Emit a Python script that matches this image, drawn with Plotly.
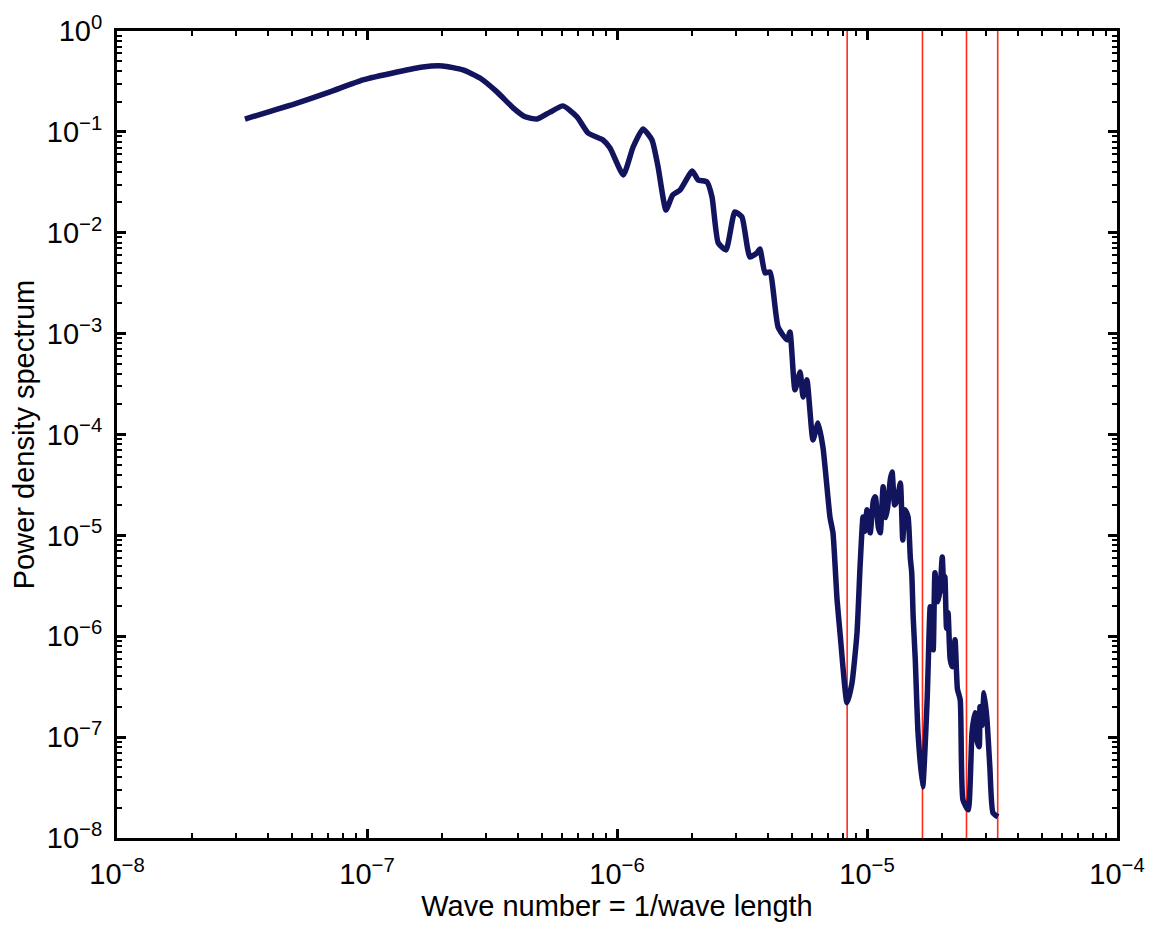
import plotly.graph_objects as go

# Wave number (1/wave length) and power density
wave_number = [
    3.25e-8, 5.25e-8, 7.11e-8, 9.64e-8, 1.32e-7, 1.67e-7, 2.01e-7, 2.42e-7, 2.83e-7, 3.31e-7,
    3.84e-7, 4.29e-7, 4.79e-7, 5.40e-7, 6.08e-7, 6.92e-7, 7.66e-7, 8.79e-7, 9.38e-7, 1.06e-6,
    1.16e-6, 1.27e-6, 1.38e-6, 1.46e-6, 1.57e-6, 1.67e-6, 1.79e-6, 2.00e-6, 2.11e-6, 2.29e-6,
    2.40e-6, 2.54e-6, 2.73e-6, 2.96e-6, 3.16e-6, 3.40e-6, 3.63e-6, 3.73e-6, 3.91e-6, 4.09e-6,
    4.41e-6, 4.79e-6, 4.92e-6, 5.15e-6, 5.40e-6, 5.55e-6, 5.75e-6, 6.08e-6, 6.37e-6, 6.67e-6,
    7.11e-6, 7.31e-6, 7.59e-6, 7.80e-6, 8.32e-6, 8.71e-6, 9.12e-6, 9.38e-6, 9.64e-6, 9.80e-6,
    1.00e-5, 1.03e-5, 1.06e-5, 1.08e-5, 1.11e-5, 1.13e-5, 1.16e-5, 1.19e-5, 1.21e-5, 1.24e-5,
    1.26e-5, 1.29e-5, 1.32e-5, 1.36e-5, 1.39e-5, 1.42e-5, 1.46e-5, 1.49e-5, 1.51e-5, 1.53e-5,
    1.56e-5, 1.60e-5, 1.67e-5, 1.74e-5, 1.79e-5, 1.84e-5, 1.87e-5, 1.92e-5, 1.96e-5, 2.00e-5,
    2.03e-5, 2.05e-5, 2.08e-5, 2.11e-5, 2.15e-5, 2.19e-5, 2.25e-5, 2.30e-5, 2.36e-5, 2.42e-5,
    2.54e-5, 2.63e-5, 2.70e-5, 2.76e-5, 2.81e-5, 2.83e-5, 2.88e-5, 2.94e-5, 3.02e-5, 3.10e-5,
    3.19e-5, 3.34e-5,
]
power_density = [
    0.134, 0.193, 0.249, 0.327, 0.392, 0.440, 0.450, 0.411, 0.342, 0.249,
    0.173, 0.141, 0.134, 0.157, 0.181, 0.141, 0.0975, 0.0832, 0.0692, 0.0374,
    0.0708, 0.107, 0.0832, 0.0449, 0.0168, 0.0237, 0.0266, 0.0410, 0.0334, 0.0319,
    0.0226, 0.00793, 0.00676, 0.0161, 0.0143, 0.00576, 0.00631, 0.00690, 0.00400, 0.00409,
    0.00116, 0.000867, 0.00104, 0.000277, 0.000417, 0.000236, 0.000348, 8.83e-5, 1.30e-4, 7.36e-5,
    1.52e-5, 1.06e-5, 2.30e-6, 1.08e-6, 2.19e-7, 3.45e-7, 1.08e-6, 4.88e-6, 1.52e-5, 1.10e-5,
    1.79e-5, 1.06e-5, 2.20e-5, 2.41e-5, 1.20e-5, 1.06e-5, 3.03e-5, 1.50e-5, 1.92e-5, 3.60e-5,
    4.26e-5, 2.00e-5, 2.25e-5, 3.31e-5, 9.02e-6, 1.80e-5, 1.52e-5, 6.00e-6, 4.25e-6, 1.56e-6,
    5.83e-7, 1.10e-7, 3.21e-8, 2.34e-7, 1.96e-6, 7.33e-7, 4.25e-6, 2.20e-6, 2.88e-6, 6.12e-6,
    2.80e-6, 3.88e-6, 1.20e-6, 1.71e-6, 6.00e-7, 4.98e-7, 9.21e-7, 3.00e-7, 2.34e-7, 2.39e-8,
    1.90e-8, 1.10e-7, 1.74e-7, 9.00e-8, 8.02e-8, 2.00e-7, 1.30e-7, 2.75e-7, 1.48e-7, 5.08e-8,
    1.78e-8, 1.62e-8,
]

# Red vertical marker lines (wave numbers)
marker_lines = [8.33e-6, 1.667e-5, 2.5e-5, 3.333e-5]

x_tick_vals = [1e-8, 1e-7, 1e-6, 1e-5, 1e-4]
x_tick_text = ["10<sup>−8</sup>", "10<sup>−7</sup>", "10<sup>−6</sup>", "10<sup>−5</sup>", "10<sup>−4</sup>"]
y_tick_vals = [1e-8, 1e-7, 1e-6, 1e-5, 1e-4, 1e-3, 1e-2, 1e-1, 1]
y_tick_text = ["10<sup>−8</sup>", "10<sup>−7</sup>", "10<sup>−6</sup>", "10<sup>−5</sup>", "10<sup>−4</sup>",
               "10<sup>−3</sup>", "10<sup>−2</sup>", "10<sup>−1</sup>", "10<sup>0</sup>"]

fig = go.Figure()

for v in marker_lines:
    fig.add_trace(go.Scatter(
        x=[v, v], y=[1e-8, 1], mode="lines",
        line=dict(color="#ff2a1a", width=1.6),
        hoverinfo="skip", showlegend=False,
    ))

fig.add_trace(go.Scatter(
    x=wave_number, y=power_density, mode="lines",
    line=dict(color="#12145e", width=5.5, shape="spline", smoothing=0.5),
    showlegend=False,
))

font_family = "Liberation Sans, Arial, sans-serif"

common_axis = dict(
    type="log",
    automargin=False,
    showgrid=False,
    zeroline=False,
    showline=True,
    linecolor="black",
    linewidth=3,
    mirror="ticks",
    ticks="inside",
    ticklen=9,
    tickwidth=2.5,
    tickcolor="black",
    tickfont=dict(family=font_family, size=29, color="black"),
    minor=dict(ticks="inside", ticklen=5, tickwidth=2, tickcolor="black", dtick="D1", showgrid=False),
)

fig.update_xaxes(
    **common_axis,
    range=[-8, -4],
    tickmode="array", tickvals=x_tick_vals, ticktext=x_tick_text,
    ticklabelstandoff=8,
    title=dict(text="Wave number = 1/wave length", font=dict(family=font_family, size=29, color="black"), standoff=4),
)
fig.update_yaxes(
    **common_axis,
    range=[-8, 0],
    tickmode="array", tickvals=y_tick_vals, ticktext=y_tick_text,
    ticklabelstandoff=6,
    title=dict(text="Power density spectrum", font=dict(family=font_family, size=29, color="black"), standoff=4),
)

fig.update_layout(
    width=1154, height=928,
    margin=dict(l=117, r=37, t=31, b=90),
    paper_bgcolor="white",
    plot_bgcolor="white",
    showlegend=False,
)

fig.write_html(
    "out.html",
    config={"displayModeBar": False},
    post_script="document.body.style.margin='0';document.body.style.overflow='hidden';",
)
